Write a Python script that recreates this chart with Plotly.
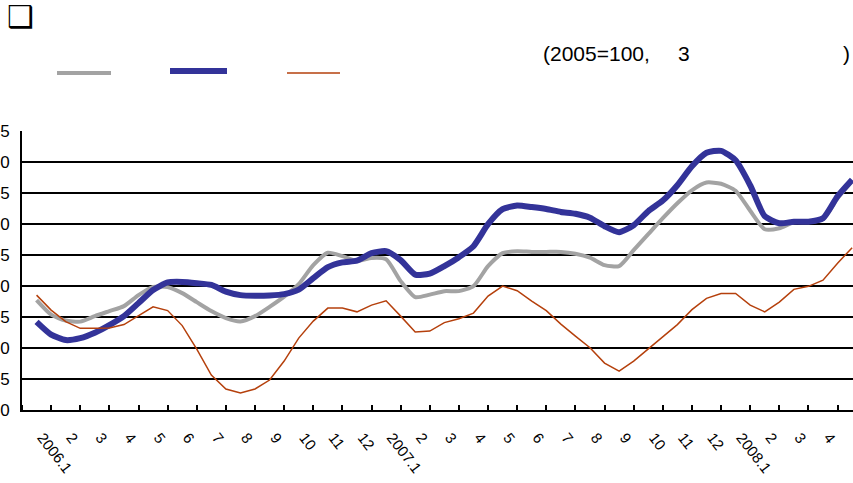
import plotly.graph_objects as go

# Month categories (tick labels)
month_labels = ["2006.1", "2", "3", "4", "5", "6", "7", "8", "9", "10", "11", "12",
                "2007.1", "2", "3", "4", "5", "6", "7", "8", "9", "10", "11", "12",
                "2008.1", "2", "3", "4", "5"]

# Observation positions on the month axis (half-month steps, 0 = 2006.1)
periods = [0.0, 0.5, 1.0, 1.5, 2.0, 2.5, 3.0, 3.5, 4.0, 4.5, 5.0, 5.5, 6.0, 6.5,
           7.0, 7.5, 8.0, 8.5, 9.0, 9.5, 10.0, 10.5, 11.0, 11.5, 12.0, 12.5, 13.0, 13.5,
           14.0, 14.5, 15.0, 15.5, 16.0, 16.5, 17.0, 17.5, 18.0, 18.5, 19.0, 19.5, 20.0, 20.5,
           21.0, 21.5, 22.0, 22.5, 23.0, 23.5, 24.0, 24.5, 25.0, 25.5, 26.0, 26.5, 27.0, 27.5,
           28.0]

series_gray = [97.74, 95.40, 94.44, 94.27, 95.16, 95.97, 96.77, 98.55, 99.89, 99.84,
               98.87, 97.42, 95.97, 94.84, 94.31, 95.16, 96.66, 98.31, 100.32, 103.39,
               105.40, 104.84, 104.06, 104.56, 104.35, 100.81, 98.23, 98.63, 99.19, 99.19,
               100.00, 103.23, 105.32, 105.65, 105.53, 105.53, 105.53, 105.24, 104.60, 103.39,
               103.23, 105.81, 108.39, 110.97, 113.39, 115.48, 116.73, 116.53, 115.40, 112.18,
               109.19, 109.35, 110.32, 110.32, 110.81, 114.19, 116.94]

series_blue = [94.24, 92.18, 91.29, 91.61, 92.48, 93.71, 95.16, 97.26, 99.37, 100.60,
               100.68, 100.48, 100.19, 99.11, 98.55, 98.45, 98.50, 98.71, 99.44, 101.29,
               103.06, 103.84, 104.11, 105.32, 105.65, 104.19, 101.85, 102.02, 103.23, 104.68,
               106.45, 110.00, 112.42, 113.02, 112.77, 112.45, 111.98, 111.69, 111.05, 109.68,
               108.71, 109.84, 112.10, 113.81, 116.29, 119.35, 121.53, 121.85, 120.32, 116.29,
               111.29, 110.16, 110.40, 110.40, 110.97, 114.52, 117.18]

series_orange = [98.55, 96.13, 94.27, 93.18, 93.18, 93.23, 93.79, 95.24, 96.65, 96.05,
                 93.63, 89.84, 85.65, 83.39, 82.74, 83.39, 84.84, 87.90, 91.61, 94.35,
                 96.45, 96.45, 95.85, 96.94, 97.63, 95.16, 92.58, 92.74, 94.11, 94.73,
                 95.65, 98.39, 100.00, 99.27, 97.58, 96.05, 93.87, 91.94, 90.05, 87.58,
                 86.29, 87.90, 89.84, 91.85, 93.79, 96.21, 98.02, 98.82, 98.81, 96.94,
                 95.85, 97.42, 99.48, 99.97, 100.97, 103.71, 106.21]

y_ticks = [80, 85, 90, 95, 100, 105, 110, 115, 120, 125]

GRAY = "#A3A3A3"
BLUE = "#333399"
ORANGE = "#B5400C"
FONT = "Arial, Liberation Sans, sans-serif"

fig = go.Figure()
fig.add_trace(go.Scatter(x=periods, y=series_gray, mode="lines",
                         line=dict(color=GRAY, width=4, shape="spline", smoothing=0.6),
                         showlegend=False))
fig.add_trace(go.Scatter(x=periods, y=series_blue, mode="lines",
                         line=dict(color=BLUE, width=6, shape="spline", smoothing=0.6),
                         showlegend=False))
fig.add_trace(go.Scatter(x=periods, y=series_orange, mode="lines",
                         line=dict(color=ORANGE, width=1.5),
                         showlegend=False))

W, H = 853, 483
ML, MR, MT, MB = 22, 0, 131, 73
pw, ph = W - ML - MR, H - MT - MB


def px(x):
    return (x - ML) / pw


def py(y):
    return (H - MB - y) / ph


shapes = []
# legend samples (legend text glyphs are not rendered in the reference)
for (x0, x1, yy, col, wd) in [(57, 111, 73, GRAY, 4), (170, 227, 71, BLUE, 6), (287, 340, 73, ORANGE, 1.5)]:
    shapes.append(dict(type="line", xref="paper", yref="paper",
                       x0=px(x0), x1=px(x1), y0=py(yy), y1=py(yy),
                       line=dict(color=col, width=wd)))

annotations = [
    dict(text="<b>❑</b>", xref="paper", yref="paper", x=px(5), y=py(16), xanchor="left", yanchor="middle",
         showarrow=False, font=dict(family="DejaVu Sans", size=30, color="black")),
    dict(text="(2005=100,", xref="paper", yref="paper", x=px(541), y=py(53), xanchor="left", yanchor="middle",
         showarrow=False, font=dict(family=FONT, size=21, color="black")),
    dict(text="3", xref="paper", yref="paper", x=px(676), y=py(53), xanchor="left", yanchor="middle",
         showarrow=False, font=dict(family=FONT, size=21, color="black")),
    dict(text=")", xref="paper", yref="paper", x=px(841), y=py(53), xanchor="left", yanchor="middle",
         showarrow=False, font=dict(family=FONT, size=21, color="black")),
]

label_pos = [i + 0.2 for i in range(len(month_labels))]

fig.update_layout(
    width=W, height=H,
    margin=dict(l=ML, r=MR, t=MT, b=MB, pad=0),
    paper_bgcolor="white", plot_bgcolor="white",
    font=dict(family=FONT, color="black"),
    shapes=shapes, annotations=annotations,
    showlegend=False,
    xaxis=dict(
        range=[-0.5, 28.03], automargin=False,
        tickmode="array", tickvals=label_pos, ticktext=month_labels,
        tickangle=52, ticks="", tickfont=dict(size=15, family=FONT),
        ticklabelstandoff=11,
        showgrid=False, zeroline=False,
        showline=True, linecolor="black", linewidth=2,
        minor=dict(tick0=-0.5, dtick=1, ticks="inside", ticklen=5, tickwidth=1.5,
                   tickcolor="black", showgrid=False),
    ),
    yaxis=dict(
        range=[80, 125.05], automargin=False,
        tickmode="array", tickvals=y_ticks,
        ticks="", tickfont=dict(size=17, family=FONT),
        ticklabelstandoff=7,
        showgrid=True, gridcolor="black", gridwidth=1.5,
        zeroline=False,
        showline=True, linecolor="black", linewidth=2,
    ),
)

fig.write_html("out.html", config={"displayModeBar": False},
               post_script="document.body.style.margin='0';")
